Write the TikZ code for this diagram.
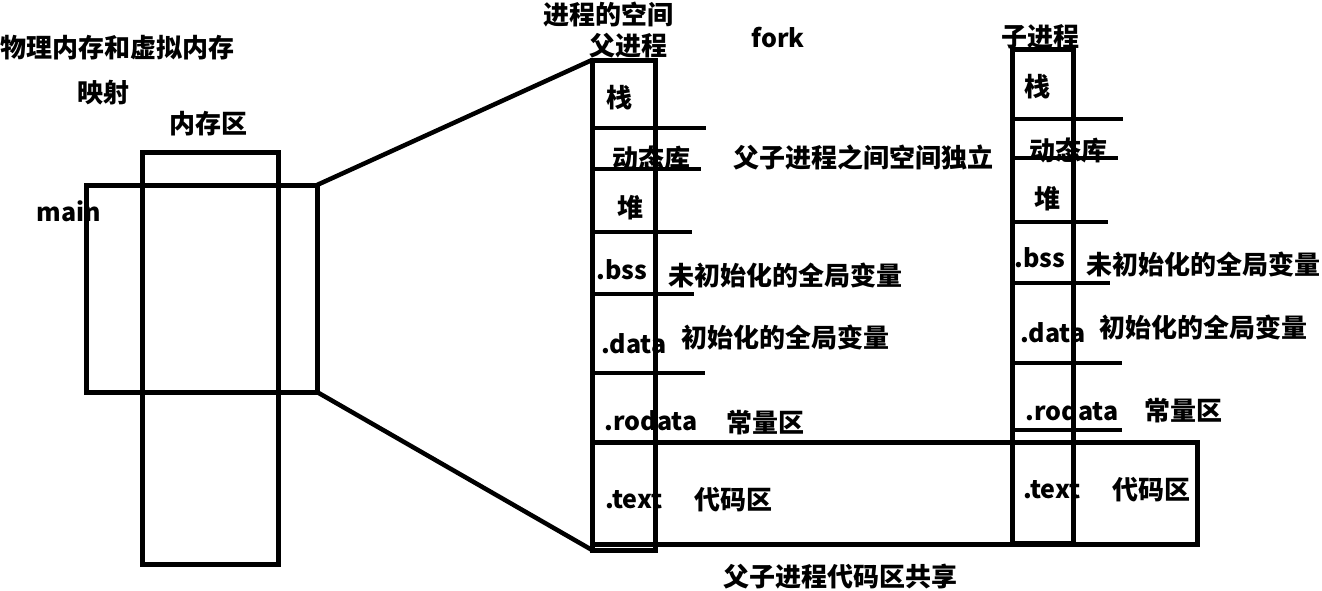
\documentclass[tikz,border=0pt]{standalone}
\usepackage{fontspec}
\setmainfont{Noto Sans CJK SC}
\tikzset{
  box/.style={draw, line width=5pt, inner sep=0pt, outer sep=0pt, anchor=north west},
  seg/.style={line width=4.5pt},
  lbl/.style={font=\bfseries\fontsize{26}{26}\selectfont, inner sep=0pt},
  en/.style={font=\bfseries\fontsize{25}{25}\selectfont, inner sep=0pt}
}
\begin{document}
\begin{tikzpicture}[x=1pt,y=-1pt]
\useasboundingbox[fill=white] (0,0) rectangle (1322,590);
% left side
\node[lbl] (t1) at (117,48) {物理内存和虚拟内存};
\node[lbl] (t2) at (103,93) {映射};
\node[lbl] (t3) at (208,124) {内存区};
\node[en] (tmain) at (69,211) {main};
\node[box, minimum width=136pt, minimum height=412pt] (mem) at (142,152) {};
\node[box, minimum width=231pt, minimum height=207pt] (mainbox) at (86,185) {};
% parent column
\node[box, minimum width=63pt, minimum height=490pt] (parent) at (592,60) {};
\node[box, minimum width=605pt, minimum height=102pt] (textbox) at (592,442) {};
\node[box, minimum width=61pt, minimum height=494pt] (child) at (1012,49) {};
% fan connectors
\draw[seg] (mainbox.north east) -- (parent.north west);
\draw[seg] (mainbox.south east) -- (parent.south west);
% parent dividers
\coordinate (p1) at (706,128);
\coordinate (p2) at (701,169);
\coordinate (p3) at (692,232);
\coordinate (p4) at (694,294);
\coordinate (p5) at (705,373);
\draw[seg] (parent.west |- p1) -- (p1);
\draw[seg] (parent.west |- p2) -- (p2);
\draw[seg] (parent.west |- p3) -- (p3);
\draw[seg] (parent.west |- p4) -- (p4);
\draw[seg] (parent.west |- p5) -- (p5);
% child dividers
\coordinate (c1) at (1123,119);
\coordinate (c2) at (1118,158);
\coordinate (c3) at (1108,222);
\coordinate (c4) at (1110,283);
\coordinate (c5) at (1122,363);
\coordinate (c6) at (1122,430);
\draw[seg] (child.west |- c1) -- (c1);
\draw[seg] (child.west |- c2) -- (c2);
\draw[seg] (child.west |- c3) -- (c3);
\draw[seg] (child.west |- c4) -- (c4);
\draw[seg] (child.west |- c5) -- (c5);
\draw[seg] (child.west |- c6) -- (c6);
% parent labels
\node[lbl] (h1) at (608,15) {进程的空间};
\node[lbl] (h2) at (628,46) {父进程};
\node[en] (fork) at (778,38) {fork};
\node[lbl] (pa) at (619,98) {栈};
\node[lbl] (pb) at (651,158) {动态库};
\node[lbl] (pc) at (630,208) {堆};
\node[en] (pd) at (622,270) {.bss};
\node[en] (pe) at (634,344) {.data};
\node[en] (pf) at (651,421) {.rodata};
\node[en] (pg) at (634,500) {.text};
\node[lbl] (ph) at (733,500) {代码区};
\node[lbl] (ind) at (863,157) {父子进程之间空间独立};
\node[lbl] (pbss) at (785,275) {未初始化的全局变量};
\node[lbl] (pdata) at (785,337) {初始化的全局变量};
\node[lbl] (pro) at (765,423) {常量区};
\node[lbl] (share) at (840,577) {父子进程代码区共享};
% child labels
\node[lbl] (h3) at (1040,37) {子进程};
\node[lbl] (ca) at (1037,87) {栈};
\node[lbl] (cb) at (1068,150) {动态库};
\node[lbl] (cc) at (1047,199) {堆};
\node[en] (cd) at (1040,258) {.bss};
\node[en] (ce) at (1053,333) {.data};
\node[en] (cf) at (1072,411) {.rodata};
\node[en] (cg) at (1052,490) {.text};
\node[lbl] (ch) at (1151,490) {代码区};
\node[lbl] (cbss) at (1203,264) {未初始化的全局变量};
\node[lbl] (cdata) at (1203,327) {初始化的全局变量};
\node[lbl] (cro) at (1183,411) {常量区};
\end{tikzpicture}
\end{document}
